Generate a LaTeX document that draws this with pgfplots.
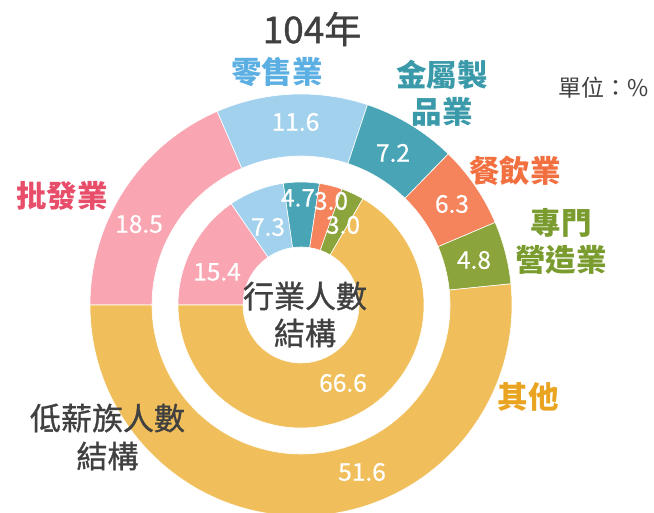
\documentclass[border=0pt]{standalone}
\usepackage{pgfplots}
\usepackage{pgfplotstable}
\pgfplotsset{compat=1.18}
\usepackage{fontspec}
\setmainfont{Noto Sans CJK TC}
\newfontfamily\medfont{Noto Sans CJK TC}[FakeBold=1]
\newfontfamily\numfont{Noto Sans CJK TC}[FakeBold=0.5]
\definecolor{cpink}{HTML}{F9A5B2}
\definecolor{cblue}{HTML}{A2D1EE}
\definecolor{cteal}{HTML}{49A5B5}
\definecolor{corange}{HTML}{F5835B}
\definecolor{cgreen}{HTML}{8BA43C}
\definecolor{cgold}{HTML}{F0BF5C}
\definecolor{lpink}{HTML}{E84E6A}
\definecolor{lblue}{HTML}{5BAFE2}
\definecolor{lteal}{HTML}{3A9AAA}
\definecolor{lorange}{HTML}{F2703F}
\definecolor{lgreen}{HTML}{7A9B2E}
\definecolor{lgold}{HTML}{E9A422}
\definecolor{dark}{HTML}{404040}
\pgfplotstableread{
name value col
wholesale 18.5 cpink
retail 11.6 cblue
metal 7.2 cteal
food 6.3 corange
constr 4.8 cgreen
other 51.6 cgold
}\outertab
\pgfplotstableread{
name value col
wholesale 15.4 cpink
retail 7.3 cblue
metal 4.7 cteal
food 3.0 corange
constr 3.0 cgreen
other 66.6 cgold
}\innertab
\newcommand\ring[3]{% table, inner radius, outer radius
  \xdef\ang{180}%
  \foreach \i in {0,...,5}{%
    \pgfplotstablegetelem{\i}{value}\of{#1}\let\segv\pgfplotsretval
    \pgfplotstablegetelem{\i}{col}\of{#1}\let\segc\pgfplotsretval
    \pgfmathsetmacro\sa{\ang}%
    \pgfmathsetmacro\sb{\ang-3.6*\segv}%
    \fill[\segc,draw=white,line width=0.6pt,shift={(axis cs:0,0)}]
      (\sa:#2pt) arc[start angle=\sa,end angle=\sb,radius=#2pt]
      -- (\sb:#3pt) arc[start angle=\sb,end angle=\sa,radius=#3pt] -- cycle;
    \xdef\ang{\sb}%
  }%
}
\begin{document}
\begin{tikzpicture}
\begin{axis}[x=1pt,y=1pt,xmin=-301,xmax=353,ymin=-208,ymax=305,
  hide axis,clip=false]
\pgfplotsextra{\ring{\outertab}{149}{211}\ring{\innertab}{58}{123}}
% white values
\begin{scope}[every node/.style={text=white,inner sep=0pt,font=\fontsize{24.5}{26}\selectfont\numfont}]
\node at (axis cs:-162,81) {18.5};
\node at (axis cs:-5.5,183) {11.6};
\node at (axis cs:92,152) {7.2};
\node at (axis cs:151,101) {6.3};
\node at (axis cs:173,45) {4.8};
\node at (axis cs:61,-167) {51.6};
\node at (axis cs:-84,33) {15.4};
\node at (axis cs:-33,78) {7.3};
\node at (axis cs:-3,107) {4.7};
\node at (axis cs:30,104) {3.0};
\node at (axis cs:42,80) {3.0};
\node at (axis cs:42,-78) {66.6};
\end{scope}
\begin{scope}[every node/.style={align=center,inner sep=0pt,font=\fontsize{30.5}{37}\selectfont\bfseries}]
\node[text=dark,font=\fontsize{37}{40}\selectfont\medfont] at (axis cs:11,276) {104年};
\node[text=lblue] at (axis cs:-24,233) {零售業};
\node[text=lteal] at (axis cs:141,211.5) {金屬製\\品業};
\node[text=dark,font=\fontsize{23}{25}\selectfont] at (axis cs:303,217) {單位：\%};
\node[text=lorange] at (axis cs:214,134) {餐飲業};
\node[text=lgreen] at (axis cs:260,63.5) {專門\\營造業};
\node[text=lpink] at (axis cs:-239,109) {批發業};
\node[text=lgold] at (axis cs:227,-92) {其他};
\node[text=dark,font=\fontsize{31}{38}\selectfont\medfont] at (axis cs:-193.5,-132) {低薪族人數\\結構};
\node[text=dark,font=\fontsize{31}{37}\selectfont\medfont] at (axis cs:4,-9.5) {行業人數\\結構};
\end{scope}
\end{axis}
\pgfresetboundingbox
\path (current axis.south west) rectangle (current axis.north east);
\end{tikzpicture}
\end{document}
